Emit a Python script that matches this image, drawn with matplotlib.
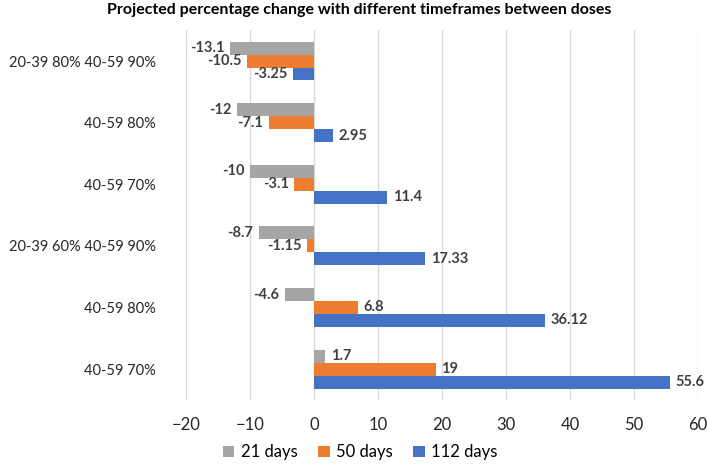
import numpy as np
import matplotlib
matplotlib.use("Agg")
import matplotlib.pyplot as plt

plt.rcParams["font.family"] = ["Lato", "DejaVu Sans"]

categories = [
    "20-39 80% 40-59 90%",
    "40-59 80%",
    "40-59 70%",
    "20-39 60% 40-59 90%",
    "40-59 80%",
    "40-59 70%",
]
series_names = ["21 days", "50 days", "112 days"]
days_21 = [-13.1, -12, -10, -8.7, -4.6, 1.7]
days_50 = [-10.5, -7.1, -3.1, -1.15, 6.8, 19]
days_112 = [-3.25, 2.95, 11.4, 17.33, 36.12, 55.6]
colors = ["#A5A5A5", "#ED7D31", "#4472C4"]

fig = plt.figure(figsize=(7.08, 4.65), dpi=100)
ax = fig.add_axes([0.263, 0.14, 0.723, 0.795])

y = np.arange(len(categories))
h = 0.21
for i, (name, vals, col) in enumerate(zip(series_names, [days_21, days_50, days_112], colors)):
    pos = y + (i - 1) * h
    ax.barh(pos, vals, height=h, color=col, label=name, zorder=3)
    for p, v in zip(pos, vals):
        ax.annotate(f"{v:g}", xy=(v, p), xytext=(4 if v >= 0 else -4, 0),
                    textcoords="offset points",
                    ha="left" if v >= 0 else "right", va="center",
                    fontsize=10.5, fontweight="bold", color="#404040")

ax.set_ylim(len(categories) - 0.5, -0.5)
ax.set_yticks(y)
ax.set_yticklabels(categories, fontsize=10.5, color="#262626")
ax.set_xlim(-20, 60)
ax.set_xticks(range(-20, 61, 10))
ax.tick_params(axis="x", labelsize=12, colors="#262626", length=0, pad=12)
ax.tick_params(axis="y", length=0, pad=22)
ax.grid(axis="x", color="#D9D9D9", linewidth=1, zorder=0)
for s in ax.spines.values():
    s.set_visible(False)

ax.set_title("Projected percentage change with different timeframes between doses",
             fontsize=11.5, fontweight="bold", pad=12, x=0.338)
ax.legend(loc="upper center", bbox_to_anchor=(0.34, -0.08), ncol=3, frameon=False,
          fontsize=12, handlelength=0.7, handleheight=0.7, columnspacing=1.2,
          handletextpad=0.4)

fig.savefig("out.png", dpi=100)
